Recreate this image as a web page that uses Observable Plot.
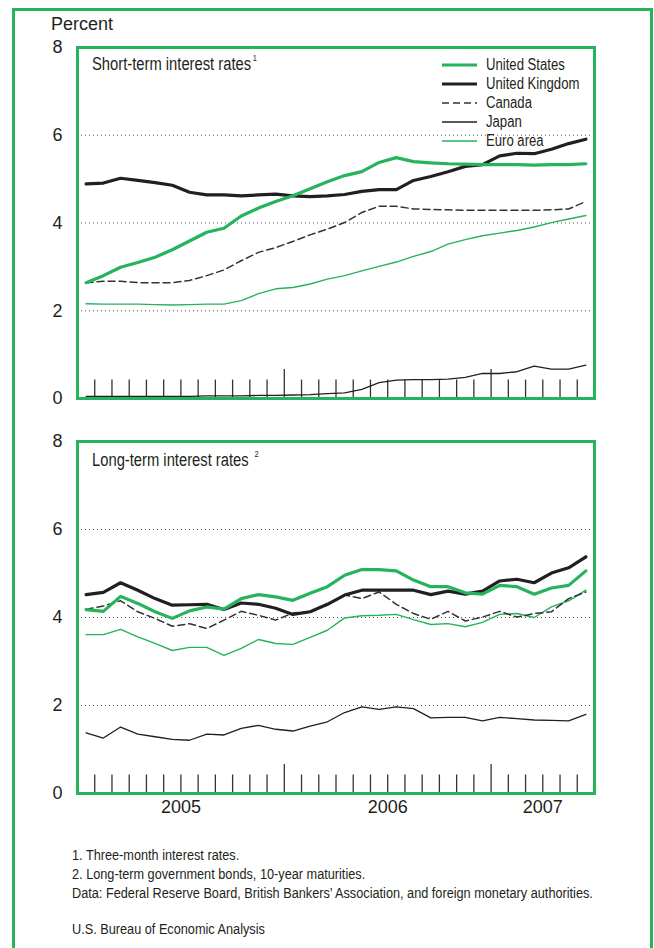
<!DOCTYPE html>
<html><head><meta charset="utf-8">
<script src="https://cdn.jsdelivr.net/npm/d3@7"></script>
<script src="https://cdn.jsdelivr.net/npm/@observablehq/plot@0.6"></script>
<style>
body{margin:0;background:#fff;}
#page{position:relative;width:654px;height:948px;overflow:hidden;font-family:"Liberation Sans",Arial,sans-serif;color:#231f20;}
#outer{position:absolute;left:12px;top:8px;width:641px;height:1000px;border:3px solid #25b35b;box-sizing:border-box;}
.narrow{font-family:"Liberation Sans",Arial,sans-serif;transform:scaleX(0.82);transform-origin:0 0;}
.abs{position:absolute;white-space:nowrap;}
#percent{left:51px;top:14px;font-size:18px;}
.ptitle{font-size:18px;}
.ptitle sup{font-size:9px;vertical-align:9px;margin-left:2px;}
#legend{left:442px;top:55px;font-size:16px;line-height:19px;}
#legend .row{display:flex;align-items:center;height:19px;}
#legend svg{margin-right:9px;}
#legend span{display:inline-block;}
#notes{left:72px;top:845px;font-size:15.5px;line-height:19px;}
#bea{left:72px;top:920px;font-size:15.5px;}
.chart{position:absolute;left:0;}
</style></head>
<body><div id="page">
<div id="outer"></div>
<div id="percent" class="abs">Percent</div>
<div id="top" class="chart" style="top:0"></div>
<div id="bottom" class="chart" style="top:400px"></div>
<div class="abs narrow ptitle" style="left:92px;top:53px">Short-term interest rates<sup>1</sup></div>
<div class="abs narrow ptitle" style="left:92px;top:449px">Long-term interest rates <sup>2</sup></div>
<div id="legend" class="abs"></div>
<div id="notes" class="abs narrow"></div>
<div id="bea" class="abs narrow">U.S. Bureau of Economic Analysis</div>
</div>
<script>
// ---- data (monthly, Jan 2005 – Jun 2007) ----
const yearLabels = ["2005", "2006", "2007"];
const yearLabelPos = [6, 18, 27];          // month index where each year label sits
const tickMonths = d3.range(1, 30);        // month boundaries
const yearBoundaries = [12, 24];
const yTicks = [0, 2, 4, 6, 8];
const gridValues = [2, 4, 6];
const countries = ["United States", "United Kingdom", "Canada", "Japan", "Euro area"];

const usShort = [2.64,2.80,2.99,3.10,3.22,3.39,3.59,3.79,3.88,4.16,4.34,4.49,4.62,4.78,4.94,5.08,5.17,5.38,5.49,5.40,5.37,5.35,5.34,5.33,5.33,5.33,5.32,5.33,5.33,5.35];
const ukShort = [4.89,4.91,5.02,4.97,4.92,4.86,4.70,4.64,4.64,4.62,4.64,4.66,4.62,4.60,4.62,4.65,4.72,4.76,4.76,4.97,5.06,5.17,5.29,5.33,5.53,5.59,5.58,5.68,5.81,5.91];
const caShort = [2.64,2.67,2.67,2.64,2.64,2.64,2.69,2.80,2.93,3.14,3.33,3.44,3.58,3.73,3.86,4.01,4.24,4.38,4.38,4.32,4.31,4.30,4.29,4.29,4.29,4.29,4.29,4.30,4.32,4.49];
const jpShort = [0.05,0.05,0.05,0.05,0.05,0.05,0.05,0.06,0.06,0.06,0.07,0.07,0.08,0.09,0.11,0.13,0.21,0.36,0.42,0.43,0.43,0.44,0.48,0.57,0.57,0.61,0.74,0.67,0.67,0.76];
const euShort = [2.16,2.15,2.15,2.15,2.14,2.13,2.14,2.15,2.15,2.23,2.39,2.50,2.53,2.61,2.72,2.80,2.91,3.01,3.11,3.24,3.35,3.52,3.62,3.71,3.77,3.83,3.91,4.01,4.09,4.17];

const usLong = [4.18,4.14,4.48,4.32,4.13,3.98,4.15,4.24,4.19,4.43,4.52,4.47,4.39,4.55,4.70,4.96,5.09,5.09,5.06,4.85,4.70,4.70,4.56,4.53,4.73,4.70,4.53,4.67,4.73,5.06];
const ukLong = [4.52,4.57,4.79,4.62,4.43,4.28,4.29,4.30,4.18,4.33,4.30,4.21,4.07,4.13,4.30,4.51,4.62,4.62,4.62,4.62,4.52,4.60,4.53,4.60,4.83,4.87,4.79,5.01,5.13,5.38];
const caLong = [4.19,4.26,4.38,4.13,3.98,3.80,3.86,3.75,3.94,4.14,4.05,3.94,4.10,4.14,4.28,4.51,4.43,4.58,4.30,4.09,3.96,4.14,3.92,4.01,4.14,4.01,4.09,4.13,4.43,4.58];
const jpLong = [1.38,1.26,1.51,1.35,1.29,1.23,1.21,1.35,1.33,1.48,1.55,1.46,1.42,1.53,1.63,1.84,1.97,1.91,1.97,1.93,1.72,1.73,1.73,1.65,1.73,1.70,1.67,1.66,1.65,1.80];
const euLong = [3.61,3.61,3.73,3.56,3.41,3.25,3.32,3.32,3.14,3.30,3.50,3.41,3.39,3.55,3.71,3.99,4.04,4.05,4.07,3.95,3.84,3.86,3.79,3.89,4.07,4.09,4.00,4.24,4.38,4.62];

const notes = [
  "1. Three-month interest rates.",
  "2. Long-term government bonds, 10-year maturities.",
  "Data: Federal Reserve Board, British Bankers\u2019 Association, and foreign monetary authorities."
];

// ---- styling ----
const GREEN = "#25b35b";
const INK = "#231f20";
const styles = {
  "United States":  {stroke: GREEN, strokeWidth: 3.2, dash: null},
  "United Kingdom": {stroke: INK, strokeWidth: 3.2, dash: null},
  "Canada":         {stroke: "#333", strokeWidth: 1.5, dash: "7,4"},
  "Japan":          {stroke: INK, strokeWidth: 1.3, dash: null},
  "Euro area":      {stroke: GREEN, strokeWidth: 1.4, dash: null}
};
const drawOrder = ["Euro area", "Japan", "Canada", "United Kingdom", "United States"];

function rows(values) { return values.map((v, i) => ({m: i + 0.5, v})); }

function panel(series, opts) {
  const lineMarks = drawOrder.map(c => Plot.line(rows(series[c]), {
    x: "m", y: "v", stroke: styles[c].stroke, strokeWidth: styles[c].strokeWidth,
    strokeDasharray: styles[c].dash || undefined, curve: "linear"
  }));
  return Plot.plot({
    width: 654, height: opts.height,
    marginLeft: 77, marginRight: 60, marginTop: opts.marginTop, marginBottom: opts.marginBottom,
    style: {fontFamily: "'Liberation Sans', Arial, sans-serif", fontSize: "18px", color: INK, background: "transparent"},
    x: {domain: [0, 30], axis: null},
    y: {domain: [0, 8], axis: null},
    marks: [
      Plot.ruleY(gridValues, {stroke: "#555", strokeWidth: 1, strokeDasharray: "1,3"}),
      Plot.ruleX(tickMonths, {x: d => d, y1: 0, y2: d => yearBoundaries.includes(d) ? 0.66 : 0.42, stroke: "#333", strokeWidth: 1.3}),
      ...lineMarks,
      Plot.frame({stroke: GREEN, strokeWidth: 3}),
      Plot.axisY(yTicks, {tickSize: 0, tickPadding: 15, fontSize: 18, textAnchor: "end", label: null}),
      ...(opts.years ? [Plot.axisX(yearLabelPos, {tickSize: 0, tickPadding: 7, fontSize: 18, label: null,
          tickFormat: (d) => yearLabels[yearLabelPos.indexOf(d)]})] : [])
    ]
  });
}

document.getElementById("top").append(panel({
  "United States": usShort, "United Kingdom": ukShort, "Canada": caShort, "Japan": jpShort, "Euro area": euShort
}, {height: 430, marginTop: 47, marginBottom: 32, years: false}));

document.getElementById("bottom").append(panel({
  "United States": usLong, "United Kingdom": ukLong, "Canada": caLong, "Japan": jpLong, "Euro area": euLong
}, {height: 440, marginTop: 41, marginBottom: 47, years: true}));

// legend
const lg = document.getElementById("legend");
countries.forEach(c => {
  const s = styles[c];
  const row = document.createElement("div");
  row.className = "row";
  row.innerHTML = `<svg width="35" height="6"><line x1="0" x2="35" y1="3" y2="3" stroke="${s.stroke}" stroke-width="${s.strokeWidth}" ${s.dash ? `stroke-dasharray="${s.dash}"` : ""}/></svg><span class="narrow">${c}</span>`;
  lg.append(row);
});

// notes
document.getElementById("notes").innerHTML = notes.map(n => `<div>${n}</div>`).join("");
</script>
</body></html>
